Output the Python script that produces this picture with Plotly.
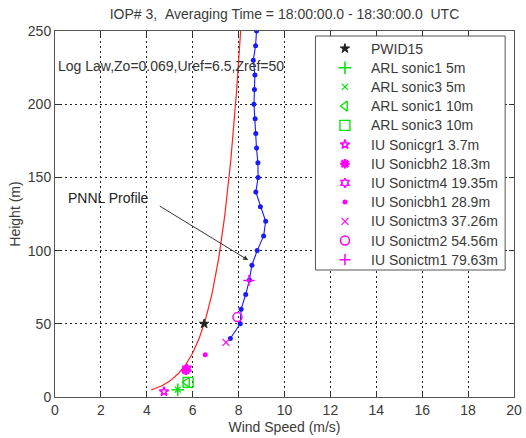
import numpy as np
import plotly.graph_objects as go

# Log-law reference parameters
Z0 = 0.069
UREF = 6.5
ZREF = 50.0

# PNNL profile (height in m, wind speed in m/s)
pnnl_height = [40, 50, 60, 70, 80, 90, 100, 110, 120, 130, 140, 150, 160,
               170, 180, 190, 200, 210, 220, 230, 240, 250]
pnnl_speed = [7.64, 8.07, 8.11, 8.31, 8.47, 8.58, 8.81, 9.09, 9.18, 8.95,
              8.75, 8.85, 8.84, 8.78, 8.75, 8.72, 8.67, 8.69, 8.71, 8.64,
              8.74, 8.78]

# Point sensors
sensor_names = ["PWID15", "ARL sonic1 5m", "ARL sonic3 5m", "ARL sonic1 10m",
                "ARL sonic3 10m", "IU Sonicgr1 3.7m", "IU Sonicbh2 18.3m",
                "IU Sonictm4 19.35m", "IU Sonicbh1 28.9m",
                "IU Sonictm3 37.26m", "IU Sonictm2 54.56m",
                "IU Sonictm1 79.63m"]
sensor_speed = [6.5, 5.35, 5.35, 5.75, 5.8, 4.75, 5.7, 5.75, 6.55, 7.45,
                7.95, 8.45]
sensor_height = [50, 5, 5, 10, 10, 3.7, 18.3, 19.35, 28.9, 37.26, 54.56,
                 79.63]
sensor_symbol = ["star", "cross-thin-open", "x-thin-open",
                 "triangle-left-open", "square-open", "star-open",
                 "asterisk-open", "hexagram-open", "circle",
                 "x-thin-open", "circle-open", "cross-thin-open"]
sensor_color = ["#222222", "#00e000", "#00e000", "#00e000", "#00e000",
                "#ff00ff", "#ff00ff", "#ff00ff", "#ff00ff", "#ff00ff",
                "#ff00ff", "#ff00ff"]
sensor_size = [7, 9, 6, 9, 10, 7, 8, 7, 5, 7, 9, 8]
sensor_lw = [1, 1.5, 1.2, 1.3, 1.3, 1.5, 2.5, 1.5, 0, 1.2, 1.5, 1.5]

x_ticks = list(range(0, 21, 2))
y_ticks = [0, 50, 100, 150, 200, 250]

FONT = "Liberation Sans, Arial, sans-serif"
TXT = "#3a3a3a"
NB = "\u00a0"

# figure geometry (px)
W, H = 526, 438
ML, MR, MT, MB = 55, 4, 31, 41

# legend panel geometry in pixel space of the overlay axes
LEG_BOX = (320, 513, 36, 270)     # left, right, top, bottom
LEG_FIRST_ROW = 48.5
LEG_ROW_STEP = 19.2
LEG_SYMBOL_X = 350
LEG_TEXT_X = 374

# log-law curve evaluated from the stated parameters
loglaw_z = np.geomspace(4.8, 250, 150)
loglaw_u = UREF * np.log(loglaw_z / Z0) / np.log(ZREF / Z0)

fig = go.Figure()

fig.add_trace(go.Scatter(
    x=loglaw_u, y=loglaw_z, mode="lines",
    line=dict(color="#ff2020", width=1.2), hoverinfo="skip"))

fig.add_trace(go.Scatter(
    x=pnnl_speed, y=pnnl_height, mode="lines+markers",
    line=dict(color="#1a1aff", width=1.1),
    marker=dict(color="#1a1aff", size=5)))

for i, name in enumerate(sensor_names):
    fig.add_trace(go.Scatter(
        x=[sensor_speed[i]], y=[sensor_height[i]], mode="markers",
        name=name,
        marker=dict(symbol=sensor_symbol[i], color=sensor_color[i],
                    size=sensor_size[i],
                    line=dict(color=sensor_color[i], width=sensor_lw[i]))))

# legend panel drawn on an overlay axis pair measured in pixels
bl, br, bt, bb = LEG_BOX
fig.add_trace(go.Scatter(
    x=[bl, br, br, bl, bl], y=[bt, bt, bb, bb, bt], mode="lines",
    fill="toself", fillcolor="white",
    line=dict(color="#555555", width=1),
    xaxis="x2", yaxis="y2", hoverinfo="skip"))

for i, name in enumerate(sensor_names):
    row_y = LEG_FIRST_ROW + LEG_ROW_STEP * i
    fig.add_trace(go.Scatter(
        x=[LEG_SYMBOL_X], y=[row_y], mode="markers",
        xaxis="x2", yaxis="y2", hoverinfo="skip",
        marker=dict(symbol=sensor_symbol[i], color=sensor_color[i],
                    size=sensor_size[i],
                    line=dict(color=sensor_color[i], width=sensor_lw[i]))))
    fig.add_annotation(x=LEG_TEXT_X, y=row_y, xref="x2", yref="y2",
                       text=name, showarrow=False, xanchor="left",
                       yanchor="middle",
                       font=dict(family=FONT, size=14, color=TXT))

fig.add_annotation(x=2.35, y=136, text="PNNL Profile", showarrow=False,
                   font=dict(family=FONT, size=14, color="#222222"))
fig.add_annotation(x=8.42, y=93.5, ax=4.5, ay=131, axref="x", ayref="y",
                   text="", showarrow=True, arrowhead=2, arrowsize=1,
                   arrowwidth=1, arrowcolor="#333333", standoff=0)
fig.add_annotation(x=0.05, y=226, text="Log Law,Zo=0.069,Uref=6.5,Zref=50",
                   xanchor="left", showarrow=False,
                   font=dict(family=FONT, size=14, color="#333333"))

axis_common = dict(
    showline=True, linecolor="#555555", linewidth=1, mirror="ticks",
    ticks="inside", ticklen=5, tickcolor="#333333",
    showgrid=True, gridcolor="#222222", gridwidth=1, griddash="2px,3px",
    zeroline=False, tickfont=dict(family=FONT, size=14, color=TXT),
    ticklabeloverflow="allow",
)

fig.update_xaxes(range=[0, 20], tickvals=x_ticks,
                 title=dict(text="Wind Speed (m/s)", standoff=5,
                            font=dict(family=FONT, size=14, color=TXT)),
                 **axis_common)
fig.update_yaxes(range=[0, 250], tickvals=y_ticks,
                 title=dict(text="Height (m)", standoff=3,
                            font=dict(family=FONT, size=14, color=TXT)),
                 **axis_common)

title_text = ("IOP# 3," + NB * 2 + "Averaging Time = 18:00:00.0 - 18:30:00.0"
              + NB * 2 + "UTC")

fig.update_layout(
    width=W, height=H,
    margin=dict(l=ML, r=MR, t=MT, b=MB),
    paper_bgcolor="white", plot_bgcolor="white",
    xaxis2=dict(overlaying="x", anchor="y2", range=[ML, W - MR],
                visible=False, showgrid=False, zeroline=False),
    yaxis2=dict(overlaying="y", anchor="x2", range=[H - MB, MT],
                visible=False, showgrid=False, zeroline=False),
    title=dict(text=title_text,
               x=0.5, xref="paper", y=1 - 14 / H, yanchor="middle",
               font=dict(family=FONT, size=14, color=TXT)),
    font=dict(family=FONT),
    showlegend=False,
)

fig.write_html("out.html")
